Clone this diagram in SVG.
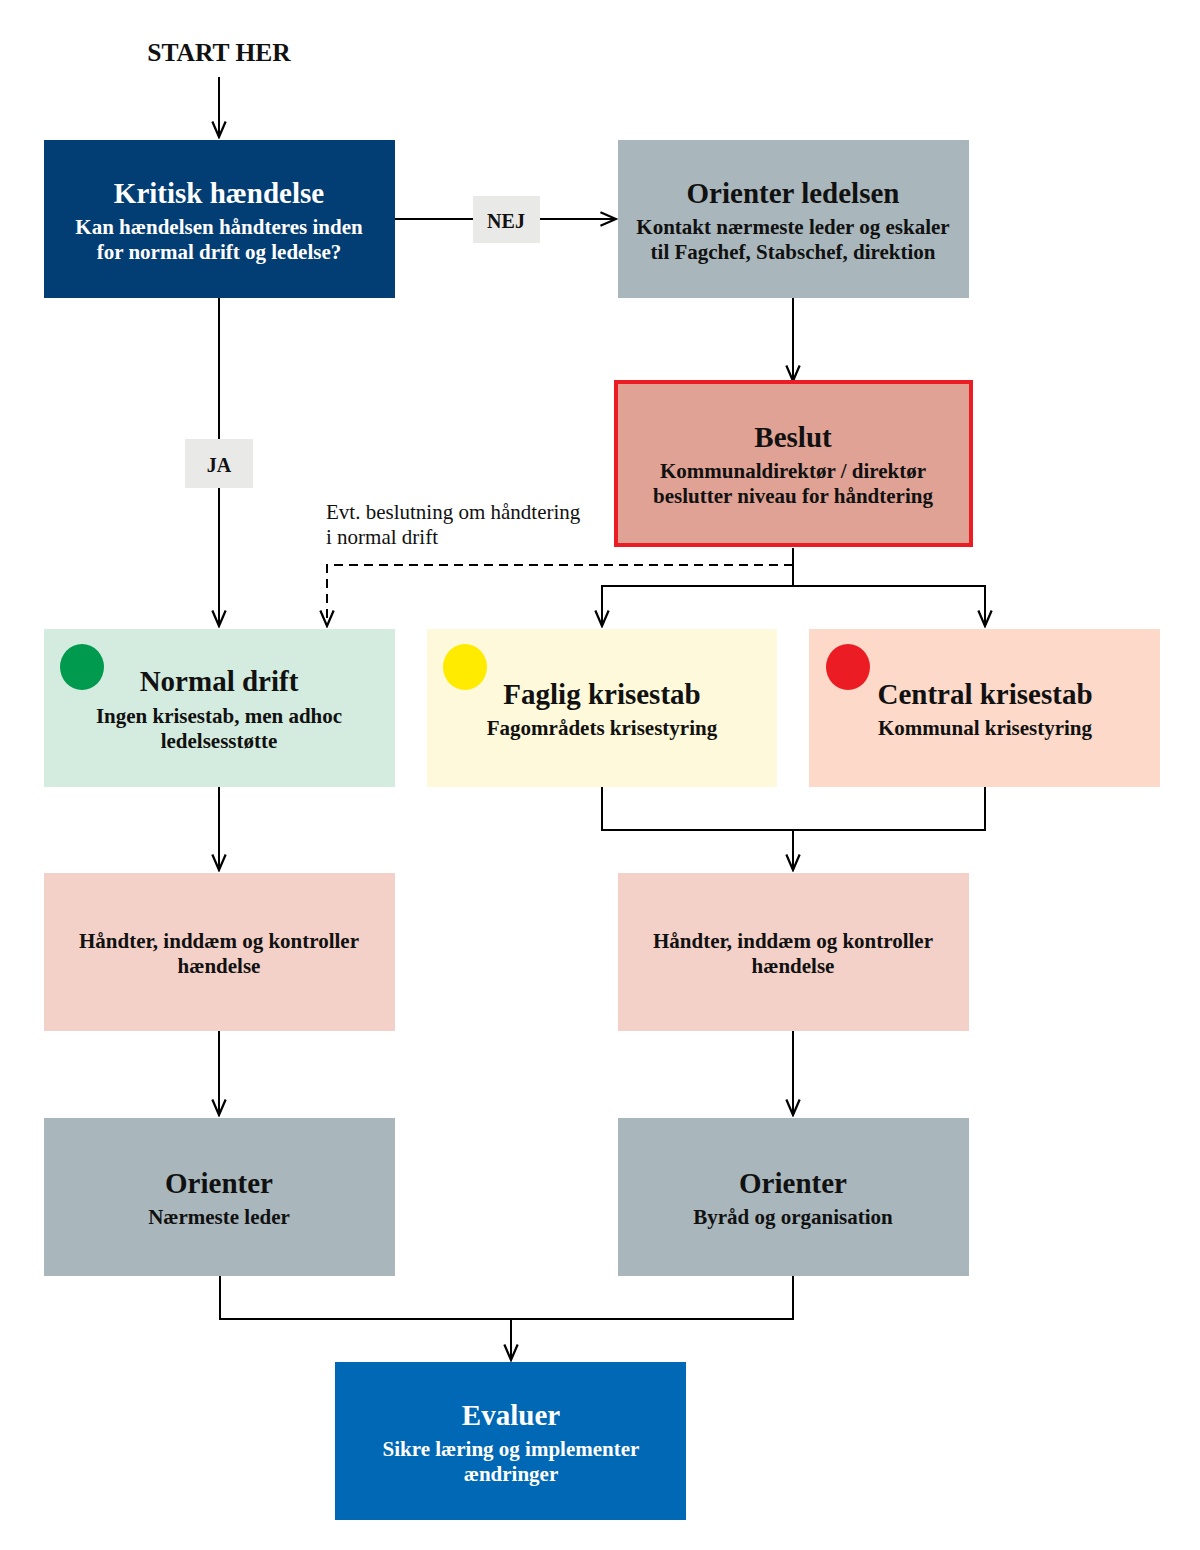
<svg xmlns="http://www.w3.org/2000/svg" width="1200" height="1550" viewBox="0 0 1200 1550">
<defs>
<marker id="arr" markerUnits="userSpaceOnUse" markerWidth="20" markerHeight="20" viewBox="-16 -9 18 18" refX="0" refY="0" orient="auto">
<path d="M-14,-6 L0,0 L-14,6" fill="none" stroke="#000" stroke-width="2"/>
</marker>
<style>
text{font-family:"Liberation Serif","DejaVu Serif",serif;font-weight:bold;text-anchor:middle}
.t{font-size:29px}
.s{font-size:21px}
.w{fill:#fff}
.k{fill:#111}
.c{fill:none;stroke:#000;stroke-width:2}
.a{marker-end:url(#arr)}
.lbl{fill:#e9e9e7}
.n{font-weight:normal;text-anchor:start;font-size:21px;fill:#111}
</style>
</defs>
<rect width="1200" height="1550" fill="#fff"/>

<g id="connectors">
<line class="c a" x1="219" y1="77" x2="219" y2="137"/>
<line class="c" x1="395" y1="219" x2="473" y2="219"/>
<line class="c a" x1="540" y1="219" x2="616" y2="219"/>
<line class="c a" x1="793" y1="298" x2="793" y2="381"/>
<line class="c" x1="219" y1="298" x2="219" y2="439"/>
<line class="c a" x1="219" y1="488" x2="219" y2="626"/>
<polyline class="c a" points="793,565 327,565 327,626" stroke-dasharray="9,6"/>
<line class="c" x1="793" y1="548" x2="793" y2="586"/>
<polyline class="c a" points="793,586 602,586 602,626"/>
<polyline class="c a" points="793,586 985,586 985,626"/>
<line class="c a" x1="219" y1="787" x2="219" y2="870"/>
<polyline class="c" points="602,787 602,830 985,830 985,787"/>
<line class="c a" x1="793" y1="830" x2="793" y2="870"/>
<line class="c a" x1="219" y1="1031" x2="219" y2="1115"/>
<line class="c a" x1="793" y1="1031" x2="793" y2="1115"/>
<polyline class="c" points="220,1276 220,1319 793,1319 793,1276"/>
<line class="c a" x1="511" y1="1319" x2="511" y2="1360"/>
<g id="label-nej"><rect class="lbl" x="473" y="196" width="67" height="47"/><text class="k" x="506" y="228" font-size="20">NEJ</text></g>
<g id="label-ja"><rect class="lbl" x="185" y="439" width="68" height="49"/><text class="k" x="219" y="472" font-size="20">JA</text></g>
<g id="label-evt"><text class="n" x="326" y="519">Evt. beslutning om håndtering</text>
<text class="n" x="326" y="544">i normal drift</text></g>
</g>

<g id="start"><text class="k" x="219" y="61" font-size="25.5">START HER</text></g>

<g id="kritisk">
<rect x="44" y="140" width="351" height="158" fill="#023d73"/>
<text class="t w" x="219" y="203">Kritisk hændelse</text>
<text class="s w" x="219" y="234">Kan hændelsen håndteres inden</text>
<text class="s w" x="219" y="259">for normal drift og ledelse?</text>
</g>

<g id="orienter-ledelsen">
<rect x="618" y="140" width="351" height="158" fill="#a9b7bc"/>
<text class="t k" x="793" y="203">Orienter ledelsen</text>
<text class="s k" x="793" y="234">Kontakt nærmeste leder og eskaler</text>
<text class="s k" x="793" y="259">til Fagchef, Stabschef, direktion</text>
</g>

<g id="beslut">
<rect x="616" y="382" width="355" height="163" fill="#e0a294" stroke="#ec1c24" stroke-width="4"/>
<text class="t k" x="793" y="447">Beslut</text>
<text class="s k" x="793" y="478">Kommunaldirektør / direktør</text>
<text class="s k" x="793" y="503">beslutter niveau for håndtering</text>
</g>

<g id="normal-drift">
<rect x="44" y="629" width="351" height="158" fill="#d4ecdf"/>
<ellipse cx="82" cy="667" rx="22" ry="23" fill="#009a4e"/>
<text class="t k" x="219" y="691">Normal drift</text>
<text class="s k" x="219" y="723">Ingen krisestab, men adhoc</text>
<text class="s k" x="219" y="748">ledelsesstøtte</text>
</g>

<g id="faglig-krisestab">
<rect x="427" y="629" width="350" height="158" fill="#fdf9da"/>
<ellipse cx="465" cy="667" rx="22" ry="23" fill="#ffeb00"/>
<text class="t k" x="602" y="704">Faglig krisestab</text>
<text class="s k" x="602" y="735">Fagområdets krisestyring</text>
</g>

<g id="central-krisestab">
<rect x="809" y="629" width="351" height="158" fill="#fcd9c9"/>
<ellipse cx="848" cy="667" rx="22" ry="23" fill="#ec1c24"/>
<text class="t k" x="985" y="704">Central krisestab</text>
<text class="s k" x="985" y="735">Kommunal krisestyring</text>
</g>

<g id="haandter-1">
<rect x="44" y="873" width="351" height="158" fill="#f3d0c8"/>
<text class="s k" x="219" y="948">Håndter, inddæm og kontroller</text>
<text class="s k" x="219" y="973">hændelse</text>
</g>

<g id="haandter-2">
<rect x="618" y="873" width="351" height="158" fill="#f3d0c8"/>
<text class="s k" x="793" y="948">Håndter, inddæm og kontroller</text>
<text class="s k" x="793" y="973">hændelse</text>
</g>

<g id="orienter-1">
<rect x="44" y="1118" width="351" height="158" fill="#a9b7bc"/>
<text class="t k" x="219" y="1193">Orienter</text>
<text class="s k" x="219" y="1224">Nærmeste leder</text>
</g>

<g id="orienter-2">
<rect x="618" y="1118" width="351" height="158" fill="#a9b7bc"/>
<text class="t k" x="793" y="1193">Orienter</text>
<text class="s k" x="793" y="1224">Byråd og organisation</text>
</g>

<g id="evaluer">
<rect x="335" y="1362" width="351" height="158" fill="#0068b5"/>
<text class="t w" x="511" y="1425">Evaluer</text>
<text class="s w" x="511" y="1456">Sikre læring og implementer</text>
<text class="s w" x="511" y="1481">ændringer</text>
</g>
</svg>
